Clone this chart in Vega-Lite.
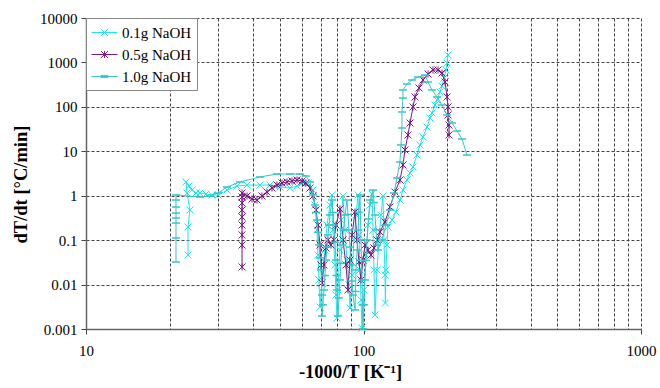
{
  "$schema": "https://vega.github.io/schema/vega-lite/v6.json",
  "width": 555,
  "height": 311,
  "autosize": {"type": "none"},
  "padding": {"left": 86, "top": 18, "right": 19, "bottom": 59},
  "background": "white",
  "datasets": {
    "runs": [
      {"s": "0.1g NaOH", "i": 1, "x": 23.31, "y": 0.0463},
      {"s": "0.1g NaOH", "i": 2, "x": 23.31, "y": 0.198},
      {"s": "0.1g NaOH", "i": 3, "x": 23.7, "y": 0.477},
      {"s": "0.1g NaOH", "i": 4, "x": 23.12, "y": 1.15},
      {"s": "0.1g NaOH", "i": 5, "x": 22.93, "y": 2.04},
      {"s": "0.1g NaOH", "i": 6, "x": 23.5, "y": 1.65},
      {"s": "0.1g NaOH", "i": 7, "x": 24.1, "y": 1.345},
      {"s": "0.1g NaOH", "i": 8, "x": 24.91, "y": 1.15},
      {"s": "0.1g NaOH", "i": 9, "x": 25.75, "y": 1.15},
      {"s": "0.1g NaOH", "i": 10, "x": 27.06, "y": 1.09},
      {"s": "0.1g NaOH", "i": 11, "x": 28.45, "y": 1.04},
      {"s": "0.1g NaOH", "i": 12, "x": 29.9, "y": 1.04},
      {"s": "0.1g NaOH", "i": 13, "x": 32.23, "y": 1.345},
      {"s": "0.1g NaOH", "i": 14, "x": 35.02, "y": 1.65},
      {"s": "0.1g NaOH", "i": 15, "x": 38.04, "y": 1.74},
      {"s": "0.1g NaOH", "i": 16, "x": 42.36, "y": 1.74},
      {"s": "0.1g NaOH", "i": 17, "x": 46.03, "y": 1.74},
      {"s": "0.1g NaOH", "i": 18, "x": 50.01, "y": 1.57},
      {"s": "0.1g NaOH", "i": 19, "x": 54.34, "y": 1.49},
      {"s": "0.1g NaOH", "i": 20, "x": 57.6, "y": 1.65},
      {"s": "0.1g NaOH", "i": 21, "x": 60.04, "y": 1.93},
      {"s": "0.1g NaOH", "i": 22, "x": 63.1, "y": 1.93},
      {"s": "0.1g NaOH", "i": 23, "x": 65.77, "y": 1.345},
      {"s": "0.1g NaOH", "i": 24, "x": 66.87, "y": 0.618},
      {"s": "0.1g NaOH", "i": 25, "x": 67.98, "y": 0.169},
      {"s": "0.1g NaOH", "i": 26, "x": 68.55, "y": 0.0463},
      {"s": "0.1g NaOH", "i": 27, "x": 69.12, "y": 0.0127},
      {"s": "0.1g NaOH", "i": 28, "x": 69.69, "y": 0.00313},
      {"s": "0.1g NaOH", "i": 29, "x": 70.87, "y": 0.0127},
      {"s": "0.1g NaOH", "i": 30, "x": 72.65, "y": 0.06},
      {"s": "0.1g NaOH", "i": 31, "x": 73.87, "y": 0.219},
      {"s": "0.1g NaOH", "i": 32, "x": 75.73, "y": 0.618},
      {"s": "0.1g NaOH", "i": 33, "x": 76.99, "y": 1.04},
      {"s": "0.1g NaOH", "i": 34, "x": 77.63, "y": 0.169},
      {"s": "0.1g NaOH", "i": 35, "x": 78.93, "y": 0.0276},
      {"s": "0.1g NaOH", "i": 36, "x": 79.58, "y": 0.00583},
      {"s": "0.1g NaOH", "i": 37, "x": 80.25, "y": 0.00177},
      {"s": "0.1g NaOH", "i": 38, "x": 80.91, "y": 0.00755},
      {"s": "0.1g NaOH", "i": 39, "x": 82.26, "y": 0.06},
      {"s": "0.1g NaOH", "i": 40, "x": 82.95, "y": 0.284},
      {"s": "0.1g NaOH", "i": 41, "x": 84.34, "y": 0.986},
      {"s": "0.1g NaOH", "i": 42, "x": 85.75, "y": 0.169},
      {"s": "0.1g NaOH", "i": 43, "x": 87.19, "y": 0.0357},
      {"s": "0.1g NaOH", "i": 44, "x": 88.65, "y": 0.0098},
      {"s": "0.1g NaOH", "i": 45, "x": 89.4, "y": 0.00297},
      {"s": "0.1g NaOH", "i": 46, "x": 90.9, "y": 0.0164},
      {"s": "0.1g NaOH", "i": 47, "x": 92.42, "y": 0.101},
      {"s": "0.1g NaOH", "i": 48, "x": 93.97, "y": 0.368},
      {"s": "0.1g NaOH", "i": 49, "x": 95.55, "y": 1.04},
      {"s": "0.1g NaOH", "i": 50, "x": 96.34, "y": 0.131},
      {"s": "0.1g NaOH", "i": 51, "x": 97.14, "y": 0.0213},
      {"s": "0.1g NaOH", "i": 52, "x": 97.95, "y": 0.0045},
      {"s": "0.1g NaOH", "i": 53, "x": 98.77, "y": 0.00105},
      {"s": "0.1g NaOH", "i": 54, "x": 100.41, "y": 0.00755},
      {"s": "0.1g NaOH", "i": 55, "x": 102.09, "y": 0.0463},
      {"s": "0.1g NaOH", "i": 56, "x": 103.8, "y": 0.219},
      {"s": "0.1g NaOH", "i": 57, "x": 105.54, "y": 0.618},
      {"s": "0.1g NaOH", "i": 58, "x": 107.31, "y": 1.09},
      {"s": "0.1g NaOH", "i": 59, "x": 108.2, "y": 0.169},
      {"s": "0.1g NaOH", "i": 60, "x": 109.09, "y": 0.0213},
      {"s": "0.1g NaOH", "i": 61, "x": 110.0, "y": 0.00207},
      {"s": "0.1g NaOH", "i": 62, "x": 111.84, "y": 0.0213},
      {"s": "0.1g NaOH", "i": 63, "x": 113.71, "y": 0.101},
      {"s": "0.1g NaOH", "i": 64, "x": 115.61, "y": 0.368},
      {"s": "0.1g NaOH", "i": 65, "x": 117.54, "y": 0.986},
      {"s": "0.1g NaOH", "i": 66, "x": 118.52, "y": 0.101},
      {"s": "0.1g NaOH", "i": 67, "x": 119.51, "y": 0.0164},
      {"s": "0.1g NaOH", "i": 68, "x": 119.9, "y": 0.00385},
      {"s": "0.1g NaOH", "i": 69, "x": 120.5, "y": 0.0213},
      {"s": "0.1g NaOH", "i": 70, "x": 121.51, "y": 0.0778},
      {"s": "0.1g NaOH", "i": 71, "x": 122.52, "y": 0.198},
      {"s": "0.1g NaOH", "i": 72, "x": 126.65, "y": 0.284},
      {"s": "0.1g NaOH", "i": 73, "x": 130.92, "y": 0.43},
      {"s": "0.1g NaOH", "i": 74, "x": 135.33, "y": 0.801},
      {"s": "0.1g NaOH", "i": 75, "x": 138.75, "y": 1.345},
      {"s": "0.1g NaOH", "i": 76, "x": 143.45, "y": 2.26},
      {"s": "0.1g NaOH", "i": 77, "x": 147.1, "y": 3.25},
      {"s": "0.1g NaOH", "i": 78, "x": 150.81, "y": 4.43},
      {"s": "0.1g NaOH", "i": 79, "x": 155.9, "y": 8.25},
      {"s": "0.1g NaOH", "i": 80, "x": 159.81, "y": 13.9},
      {"s": "0.1g NaOH", "i": 81, "x": 163.83, "y": 21.0},
      {"s": "0.1g NaOH", "i": 82, "x": 169.36, "y": 35.2},
      {"s": "0.1g NaOH", "i": 83, "x": 173.63, "y": 56.1},
      {"s": "0.1g NaOH", "i": 84, "x": 176.54, "y": 72.7},
      {"s": "0.1g NaOH", "i": 85, "x": 181.03, "y": 110},
      {"s": "0.1g NaOH", "i": 86, "x": 184.06, "y": 143},
      {"s": "0.1g NaOH", "i": 87, "x": 188.71, "y": 216},
      {"s": "0.1g NaOH", "i": 88, "x": 191.87, "y": 295},
      {"s": "0.1g NaOH", "i": 89, "x": 195.08, "y": 446},
      {"s": "0.1g NaOH", "i": 90, "x": 198.36, "y": 675},
      {"s": "0.1g NaOH", "i": 91, "x": 200.0, "y": 971},
      {"s": "0.1g NaOH", "i": 92, "x": 201.68, "y": 1469},

      {"s": "0.5g NaOH", "i": 1, "x": 36.5, "y": 0.0249},
      {"s": "0.5g NaOH", "i": 2, "x": 36.5, "y": 0.0778},
      {"s": "0.5g NaOH", "i": 3, "x": 36.5, "y": 0.131},
      {"s": "0.5g NaOH", "i": 4, "x": 36.5, "y": 0.219},
      {"s": "0.5g NaOH", "i": 5, "x": 36.5, "y": 0.332},
      {"s": "0.5g NaOH", "i": 6, "x": 36.5, "y": 0.477},
      {"s": "0.5g NaOH", "i": 7, "x": 36.5, "y": 0.686},
      {"s": "0.5g NaOH", "i": 8, "x": 36.5, "y": 0.936},
      {"s": "0.5g NaOH", "i": 9, "x": 36.5, "y": 1.15},
      {"s": "0.5g NaOH", "i": 10, "x": 38.04, "y": 0.986},
      {"s": "0.5g NaOH", "i": 11, "x": 39.65, "y": 0.844},
      {"s": "0.5g NaOH", "i": 12, "x": 41.33, "y": 0.801},
      {"s": "0.5g NaOH", "i": 13, "x": 43.07, "y": 0.986},
      {"s": "0.5g NaOH", "i": 14, "x": 44.9, "y": 1.21},
      {"s": "0.5g NaOH", "i": 15, "x": 46.8, "y": 1.49},
      {"s": "0.5g NaOH", "i": 16, "x": 48.78, "y": 1.74},
      {"s": "0.5g NaOH", "i": 17, "x": 50.85, "y": 1.93},
      {"s": "0.5g NaOH", "i": 18, "x": 53.01, "y": 2.04},
      {"s": "0.5g NaOH", "i": 19, "x": 55.25, "y": 2.14},
      {"s": "0.5g NaOH", "i": 20, "x": 57.6, "y": 2.26},
      {"s": "0.5g NaOH", "i": 21, "x": 60.04, "y": 2.14},
      {"s": "0.5g NaOH", "i": 22, "x": 62.06, "y": 1.93},
      {"s": "0.5g NaOH", "i": 23, "x": 64.15, "y": 1.49},
      {"s": "0.5g NaOH", "i": 24, "x": 65.77, "y": 0.986},
      {"s": "0.5g NaOH", "i": 25, "x": 67.42, "y": 0.477},
      {"s": "0.5g NaOH", "i": 26, "x": 68.55, "y": 0.219},
      {"s": "0.5g NaOH", "i": 27, "x": 69.69, "y": 0.0778},
      {"s": "0.5g NaOH", "i": 28, "x": 70.27, "y": 0.0276},
      {"s": "0.5g NaOH", "i": 29, "x": 70.87, "y": 0.0109},
      {"s": "0.5g NaOH", "i": 30, "x": 72.05, "y": 0.0276},
      {"s": "0.5g NaOH", "i": 31, "x": 73.26, "y": 0.0666},
      {"s": "0.5g NaOH", "i": 32, "x": 74.48, "y": 0.101},
      {"s": "0.5g NaOH", "i": 33, "x": 76.36, "y": 0.0778},
      {"s": "0.5g NaOH", "i": 34, "x": 78.28, "y": 0.101},
      {"s": "0.5g NaOH", "i": 35, "x": 79.58, "y": 0.219},
      {"s": "0.5g NaOH", "i": 36, "x": 82.26, "y": 0.502},
      {"s": "0.5g NaOH", "i": 37, "x": 84.34, "y": 0.101},
      {"s": "0.5g NaOH", "i": 38, "x": 86.47, "y": 0.0276},
      {"s": "0.5g NaOH", "i": 39, "x": 87.92, "y": 0.00755},
      {"s": "0.5g NaOH", "i": 40, "x": 89.4, "y": 0.0357},
      {"s": "0.5g NaOH", "i": 41, "x": 90.9, "y": 0.131},
      {"s": "0.5g NaOH", "i": 42, "x": 93.2, "y": 0.43},
      {"s": "0.5g NaOH", "i": 43, "x": 94.76, "y": 0.101},
      {"s": "0.5g NaOH", "i": 44, "x": 96.34, "y": 0.0322},
      {"s": "0.5g NaOH", "i": 45, "x": 97.95, "y": 0.0127},
      {"s": "0.5g NaOH", "i": 46, "x": 99.59, "y": 0.0357},
      {"s": "0.5g NaOH", "i": 47, "x": 101.25, "y": 0.0778},
      {"s": "0.5g NaOH", "i": 48, "x": 103.8, "y": 0.06},
      {"s": "0.5g NaOH", "i": 49, "x": 106.42, "y": 0.0463},
      {"s": "0.5g NaOH", "i": 50, "x": 109.09, "y": 0.0666},
      {"s": "0.5g NaOH", "i": 51, "x": 111.84, "y": 0.101},
      {"s": "0.5g NaOH", "i": 52, "x": 114.65, "y": 0.153},
      {"s": "0.5g NaOH", "i": 53, "x": 119.51, "y": 0.256},
      {"s": "0.5g NaOH", "i": 54, "x": 124.57, "y": 0.557},
      {"s": "0.5g NaOH", "i": 55, "x": 129.84, "y": 1.21},
      {"s": "0.5g NaOH", "i": 56, "x": 135.33, "y": 2.26},
      {"s": "0.5g NaOH", "i": 57, "x": 138.75, "y": 4.91},
      {"s": "0.5g NaOH", "i": 58, "x": 141.07, "y": 10.7},
      {"s": "0.5g NaOH", "i": 59, "x": 144.64, "y": 23.3},
      {"s": "0.5g NaOH", "i": 60, "x": 147.1, "y": 43.3},
      {"s": "0.5g NaOH", "i": 61, "x": 150.81, "y": 99.3},
      {"s": "0.5g NaOH", "i": 62, "x": 153.33, "y": 167},
      {"s": "0.5g NaOH", "i": 63, "x": 158.49, "y": 266},
      {"s": "0.5g NaOH", "i": 64, "x": 163.83, "y": 402},
      {"s": "0.5g NaOH", "i": 65, "x": 170.78, "y": 549},
      {"s": "0.5g NaOH", "i": 66, "x": 178.03, "y": 675},
      {"s": "0.5g NaOH", "i": 67, "x": 185.6, "y": 675},
      {"s": "0.5g NaOH", "i": 68, "x": 191.87, "y": 578},
      {"s": "0.5g NaOH", "i": 69, "x": 196.72, "y": 363},
      {"s": "0.5g NaOH", "i": 70, "x": 200.0, "y": 167},
      {"s": "0.5g NaOH", "i": 71, "x": 201.68, "y": 99.3},
      {"s": "0.5g NaOH", "i": 72, "x": 201.68, "y": 65.6},
      {"s": "0.5g NaOH", "i": 73, "x": 203.36, "y": 39.0},
      {"s": "0.5g NaOH", "i": 74, "x": 203.36, "y": 23.3},

      {"s": "1.0g NaOH", "i": 1, "x": 21.1, "y": 0.0322},
      {"s": "1.0g NaOH", "i": 2, "x": 21.1, "y": 0.112},
      {"s": "1.0g NaOH", "i": 3, "x": 21.1, "y": 0.243},
      {"s": "1.0g NaOH", "i": 4, "x": 21.1, "y": 0.315},
      {"s": "1.0g NaOH", "i": 5, "x": 21.1, "y": 0.408},
      {"s": "1.0g NaOH", "i": 6, "x": 21.1, "y": 0.557},
      {"s": "1.0g NaOH", "i": 7, "x": 21.1, "y": 0.801},
      {"s": "1.0g NaOH", "i": 8, "x": 21.1, "y": 1.04},
      {"s": "1.0g NaOH", "i": 9, "x": 25.75, "y": 0.936},
      {"s": "1.0g NaOH", "i": 10, "x": 27.98, "y": 0.986},
      {"s": "1.0g NaOH", "i": 11, "x": 29.9, "y": 1.15},
      {"s": "1.0g NaOH", "i": 12, "x": 32.23, "y": 1.57},
      {"s": "1.0g NaOH", "i": 13, "x": 35.89, "y": 2.04},
      {"s": "1.0g NaOH", "i": 14, "x": 42.36, "y": 2.64},
      {"s": "1.0g NaOH", "i": 15, "x": 48.78, "y": 3.08},
      {"s": "1.0g NaOH", "i": 16, "x": 54.34, "y": 3.08},
      {"s": "1.0g NaOH", "i": 17, "x": 59.05, "y": 3.08},
      {"s": "1.0g NaOH", "i": 18, "x": 62.06, "y": 2.78},
      {"s": "1.0g NaOH", "i": 19, "x": 64.15, "y": 2.04},
      {"s": "1.0g NaOH", "i": 20, "x": 65.77, "y": 1.04},
      {"s": "1.0g NaOH", "i": 21, "x": 66.87, "y": 0.618},
      {"s": "1.0g NaOH", "i": 21.5, "x": 67.4, "y": 0.42},
      {"s": "1.0g NaOH", "i": 22, "x": 67.98, "y": 0.284},
      {"s": "1.0g NaOH", "i": 22.5, "x": 68.5, "y": 0.15},
      {"s": "1.0g NaOH", "i": 23, "x": 69.12, "y": 0.0778},
      {"s": "1.0g NaOH", "i": 23.5, "x": 69.7, "y": 0.04},
      {"s": "1.0g NaOH", "i": 24, "x": 70.27, "y": 0.0213},
      {"s": "1.0g NaOH", "i": 25, "x": 70.87, "y": 0.00583},
      {"s": "1.0g NaOH", "i": 26, "x": 70.87, "y": 0.00196},
      {"s": "1.0g NaOH", "i": 26.5, "x": 71.4, "y": 0.0035},
      {"s": "1.0g NaOH", "i": 27, "x": 72.05, "y": 0.00755},
      {"s": "1.0g NaOH", "i": 27.5, "x": 72.6, "y": 0.016},
      {"s": "1.0g NaOH", "i": 28, "x": 73.26, "y": 0.0357},
      {"s": "1.0g NaOH", "i": 28.5, "x": 73.9, "y": 0.07},
      {"s": "1.0g NaOH", "i": 29, "x": 74.48, "y": 0.131},
      {"s": "1.0g NaOH", "i": 29.5, "x": 75.1, "y": 0.22},
      {"s": "1.0g NaOH", "i": 30, "x": 75.73, "y": 0.368},
      {"s": "1.0g NaOH", "i": 31, "x": 76.99, "y": 0.801},
      {"s": "1.0g NaOH", "i": 31.5, "x": 77.6, "y": 0.42},
      {"s": "1.0g NaOH", "i": 32, "x": 78.28, "y": 0.219},
      {"s": "1.0g NaOH", "i": 32.5, "x": 78.9, "y": 0.09},
      {"s": "1.0g NaOH", "i": 33, "x": 79.58, "y": 0.0357},
      {"s": "1.0g NaOH", "i": 33.5, "x": 79.9, "y": 0.016},
      {"s": "1.0g NaOH", "i": 34, "x": 80.25, "y": 0.00755},
      {"s": "1.0g NaOH", "i": 35, "x": 80.91, "y": 0.00196},
      {"s": "1.0g NaOH", "i": 35.5, "x": 81.6, "y": 0.005},
      {"s": "1.0g NaOH", "i": 36, "x": 82.26, "y": 0.0127},
      {"s": "1.0g NaOH", "i": 36.5, "x": 82.9, "y": 0.03},
      {"s": "1.0g NaOH", "i": 37, "x": 83.64, "y": 0.0778},
      {"s": "1.0g NaOH", "i": 37.5, "x": 84.7, "y": 0.17},
      {"s": "1.0g NaOH", "i": 38, "x": 85.75, "y": 0.368},
      {"s": "1.0g NaOH", "i": 39, "x": 87.19, "y": 0.801},
      {"s": "1.0g NaOH", "i": 39.5, "x": 87.9, "y": 0.38},
      {"s": "1.0g NaOH", "i": 40, "x": 88.65, "y": 0.169},
      {"s": "1.0g NaOH", "i": 40.5, "x": 89.4, "y": 0.07},
      {"s": "1.0g NaOH", "i": 41, "x": 90.14, "y": 0.0276},
      {"s": "1.0g NaOH", "i": 41.5, "x": 90.9, "y": 0.012},
      {"s": "1.0g NaOH", "i": 42, "x": 91.66, "y": 0.00583},
      {"s": "1.0g NaOH", "i": 43, "x": 93.2, "y": 0.00268},
      {"s": "1.0g NaOH", "i": 43.5, "x": 93.6, "y": 0.007},
      {"s": "1.0g NaOH", "i": 44, "x": 93.97, "y": 0.0213},
      {"s": "1.0g NaOH", "i": 44.5, "x": 94.8, "y": 0.06},
      {"s": "1.0g NaOH", "i": 45, "x": 95.55, "y": 0.169},
      {"s": "1.0g NaOH", "i": 45.5, "x": 96.3, "y": 0.42},
      {"s": "1.0g NaOH", "i": 46, "x": 97.14, "y": 1.04},
      {"s": "1.0g NaOH", "i": 47, "x": 97.95, "y": 0.101},
      {"s": "1.0g NaOH", "i": 47.5, "x": 98.4, "y": 0.035},
      {"s": "1.0g NaOH", "i": 48, "x": 98.77, "y": 0.0127},
      {"s": "1.0g NaOH", "i": 48.5, "x": 99.2, "y": 0.0035},
      {"s": "1.0g NaOH", "i": 49, "x": 99.59, "y": 0.00101},
      {"s": "1.0g NaOH", "i": 49.5, "x": 100.4, "y": 0.0035},
      {"s": "1.0g NaOH", "i": 50, "x": 101.25, "y": 0.0127},
      {"s": "1.0g NaOH", "i": 50.5, "x": 102.1, "y": 0.035},
      {"s": "1.0g NaOH", "i": 51, "x": 102.95, "y": 0.101},
      {"s": "1.0g NaOH", "i": 51.5, "x": 104.2, "y": 0.3},
      {"s": "1.0g NaOH", "i": 52, "x": 105.54, "y": 0.801},
      {"s": "1.0g NaOH", "i": 53, "x": 108.2, "y": 1.345},
      {"s": "1.0g NaOH", "i": 53.5, "x": 109.1, "y": 0.7},
      {"s": "1.0g NaOH", "i": 54, "x": 110.0, "y": 0.368},
      {"s": "1.0g NaOH", "i": 54.5, "x": 110.9, "y": 0.17},
      {"s": "1.0g NaOH", "i": 55, "x": 111.84, "y": 0.0778},
      {"s": "1.0g NaOH", "i": 56, "x": 112.77, "y": 0.06},
      {"s": "1.0g NaOH", "i": 57, "x": 116.57, "y": 0.101},
      {"s": "1.0g NaOH", "i": 58, "x": 120.5, "y": 0.219},
      {"s": "1.0g NaOH", "i": 59, "x": 124.57, "y": 0.477},
      {"s": "1.0g NaOH", "i": 60, "x": 128.77, "y": 1.15},
      {"s": "1.0g NaOH", "i": 61, "x": 132.01, "y": 2.51},
      {"s": "1.0g NaOH", "i": 62, "x": 135.33, "y": 5.74},
      {"s": "1.0g NaOH", "i": 63, "x": 136.47, "y": 13.9},
      {"s": "1.0g NaOH", "i": 64, "x": 137.6, "y": 33.4},
      {"s": "1.0g NaOH", "i": 65, "x": 137.6, "y": 76.6},
      {"s": "1.0g NaOH", "i": 66, "x": 138.75, "y": 158},
      {"s": "1.0g NaOH", "i": 67, "x": 138.75, "y": 240},
      {"s": "1.0g NaOH", "i": 68, "x": 143.45, "y": 327},
      {"s": "1.0g NaOH", "i": 69, "x": 149.56, "y": 402},
      {"s": "1.0g NaOH", "i": 70, "x": 157.2, "y": 470},
      {"s": "1.0g NaOH", "i": 71, "x": 166.58, "y": 521},
      {"s": "1.0g NaOH", "i": 72, "x": 170.78, "y": 363},
      {"s": "1.0g NaOH", "i": 73, "x": 176.54, "y": 240},
      {"s": "1.0g NaOH", "i": 74, "x": 184.06, "y": 167},
      {"s": "1.0g NaOH", "i": 75, "x": 191.87, "y": 110},
      {"s": "1.0g NaOH", "i": 76, "x": 200.0, "y": 65.6},
      {"s": "1.0g NaOH", "i": 77, "x": 208.49, "y": 43.3},
      {"s": "1.0g NaOH", "i": 78, "x": 217.33, "y": 28.6},
      {"s": "1.0g NaOH", "i": 79, "x": 226.46, "y": 18.9},
      {"s": "1.0g NaOH", "i": 80, "x": 236.05, "y": 8.25}
    ]
  },
  "data": {"name": "runs"},
  "encoding": {
    "x": {
      "field": "x",
      "type": "quantitative",
      "scale": {"type": "log", "domain": [10, 1000]},
      "title": "-1000/T [K⁻¹]",
      "axis": {
        "values": [10, 20, 30, 40, 50, 60, 70, 80, 90, 100, 200, 300, 400, 500, 600, 700, 800, 900, 1000],
        "format": "d",
        "labelExpr": "(datum.value == 10 || datum.value == 100 || datum.value == 1000) ? datum.label : ''",
        "tickOpacity": {"condition": {"test": "datum.value == 10 || datum.value == 100 || datum.value == 1000", "value": 1}, "value": 0},
        "labelPadding": 9,
        "titlePadding": 4,
        "titleX": 264
      }
    },
    "y": {
      "field": "y",
      "type": "quantitative",
      "scale": {"type": "log", "domain": [0.001, 10000]},
      "title": "dT/dt [°C/min]",
      "axis": {
        "values": [0.001, 0.01, 0.1, 1, 10, 100, 1000, 10000],
        "format": "~g",
        "labelPadding": 4,
        "titlePadding": 9,
        "titleY": 166
      }
    },
    "color": {
      "field": "s",
      "type": "nominal",
      "scale": {
        "domain": ["0.1g NaOH", "0.5g NaOH", "1.0g NaOH"],
        "range": ["#1CE8F0", "#7D1A85", "#38C6C6"]
      },
      "legend": {"title": null}
    }
  },
  "layer": [
    {
      "transform": [{"filter": "datum.s == '0.1g NaOH'"}],
      "layer": [
        {"mark": {"type": "line", "strokeWidth": 1}, "encoding": {"order": {"field": "i"}}},
        {"mark": {"type": "point", "shape": "M-1,-1L1,1M-1,1L1,-1", "filled": false, "size": 49, "strokeWidth": 1, "opacity": 1}}
      ]
    },
    {
      "transform": [{"filter": "datum.s == '0.5g NaOH'"}],
      "layer": [
        {"mark": {"type": "line", "strokeWidth": 1}, "encoding": {"order": {"field": "i"}}},
        {"mark": {"type": "point", "shape": "M-1,-1L1,1M-1,1L1,-1M0,-1L0,1", "filled": false, "size": 49, "strokeWidth": 1, "opacity": 1}}
      ]
    },
    {
      "transform": [{"filter": "datum.s == '1.0g NaOH'"}],
      "layer": [
        {"mark": {"type": "line", "strokeWidth": 1}, "encoding": {"order": {"field": "i"}}},
        {"mark": {"type": "point", "shape": "M-1,0L1,0", "filled": false, "size": 64, "strokeWidth": 1.5, "opacity": 1}}
      ]
    },
    {
      "transform": [{"filter": "false"}],
      "mark": {"type": "point", "filled": false, "opacity": 1},
      "encoding": {
        "shape": {
          "field": "s",
          "type": "nominal",
          "scale": {
            "domain": ["0.1g NaOH", "0.5g NaOH", "1.0g NaOH"],
            "range": [
              "M-1,0H1.89M0.05,-0.39L0.83,0.39M0.05,0.39L0.83,-0.39",
              "M-1,0H1.89M0.05,-0.39L0.83,0.39M0.05,0.39L0.83,-0.39M0.44,-0.39V0.39",
              "M-1,0H1.89M0.05,-0.12H0.83V0.12H0.05Z"
            ]
          },
          "legend": {"title": null}
        }
      }
    }
  ],
  "config": {
    "view": {"stroke": null},
    "axis": {
      "grid": true,
      "gridColor": "#444",
      "gridDash": [3, 2],
      "gridWidth": 1,
      "gridOpacity": 1,
      "domainColor": "#666",
      "domainWidth": 1.5,
      "tickColor": "#444",
      "tickSize": 5,
      "tickWidth": 1,
      "labelFont": "Liberation Serif",
      "labelFontSize": 15,
      "labelColor": "#000",
      "titleFont": "Liberation Serif",
      "titleFontSize": 18.5,
      "titleFontWeight": "bold",
      "titleColor": "#000",
      "labelFlush": false,
      "labelOverlap": false
    },
    "legend": {
      "orient": "top-left",
      "offset": 0,
      "padding": 5,
      "fillColor": "white",
      "strokeColor": "#888",
      "symbolSize": 324,
      "symbolStrokeWidth": 1,
      "rowPadding": 4,
      "labelOffset": 12,
      "labelFont": "Liberation Serif",
      "labelFontSize": 15,
      "labelColor": "#000",
      "zindex": 1
    }
  }
}
